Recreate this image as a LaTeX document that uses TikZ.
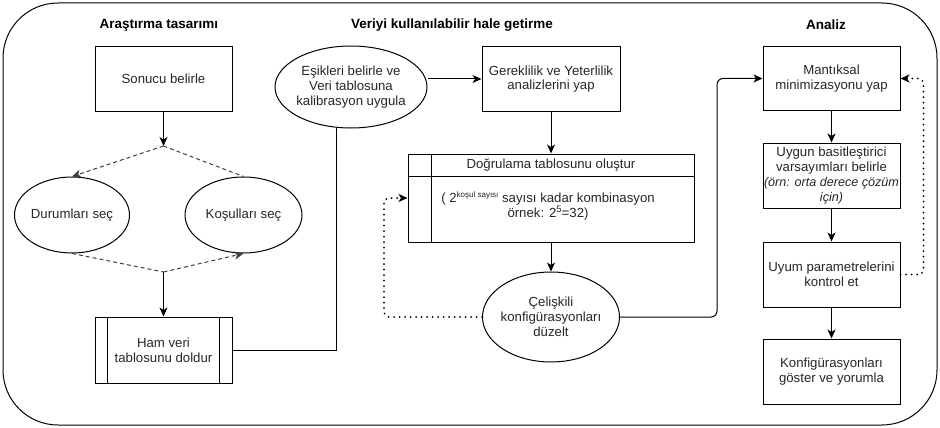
\documentclass[tikz,border=0pt]{standalone}
\usepackage{fontspec}
\setmainfont{Liberation Sans}
\usetikzlibrary{arrows.meta,shapes.geometric,calc}
\begin{document}
\begin{tikzpicture}[x=1pt,y=-1pt,
  every node/.style={font=\fontsize{13.2}{14.8}\selectfont, text=black!85},
  ttl/.style={font=\bfseries\fontsize{13.5}{15}\selectfont, text=black},
  box/.style={draw, line width=1pt, minimum width=137pt, minimum height=64pt, inner sep=0pt, align=center},
  ell/.style={draw, ellipse, line width=1pt, inner ysep=0pt, inner xsep=-4pt, align=center},
  tip/.style={-{Stealth[length=9pt,width=8pt,inset=2.5pt]}},
  arr/.style={line width=1pt, tip},
  dsh/.style={line width=1pt, black!75, dash pattern=on 4pt off 3pt},
  dot/.style={line width=2pt, dash pattern=on 0pt off 5.5pt, line cap=round, rounded corners=5pt},
  ln/.style={line width=1pt}
]
\useasboundingbox (0,0) rectangle (940,428);
\draw[line width=1pt, rounded corners=55pt] (3,3) rectangle (937,425);

% titles
\node[ttl] (t1) at (159,25) {Araştırma tasarımı};
\node[ttl] (t2) at (452,25) {Veriyi kullanılabilir hale getirme};
\node[ttl] (t3) at (826,25) {Analiz};

% left column
\node[box] (sonuc) at (163.5,79) {Sonucu belirle};
\coordinate (split) at (163.5,146);
\node[ell, minimum width=115pt, minimum height=76pt] (durum) at (72,215) {Durumları seç};
\node[ell, minimum width=117pt, minimum height=76pt] (kosul) at (243.5,215) {Koşulları seç};
\coordinate (join) at (163.5,272);
\node[box, minimum height=66pt] (ham) at (163.5,350) {Ham veri\\tablosunu doldur};
\draw[ln] ($(ham.north west)+(13,0)$) -- ($(ham.south west)+(13,0)$);
\draw[ln] ($(ham.north east)+(-13,0)$) -- ($(ham.south east)+(-13,0)$);

\draw[arr] (sonuc.south) -- (split);
\draw[dsh, tip] (split) -- (durum.north);
\draw[dsh] (split) -- (kosul.north);
\draw[dsh] (durum.south) -- (join);
\draw[dsh, tip] (join) -- (kosul.south);
\draw[arr] (join) -- (ham.north);

% middle column
\node[ell, minimum width=152pt, minimum height=82pt] (esik) at (351,87) {Eşikleri belirle ve\\Veri tablosuna\\kalibrasyon uygula};
\node[box, minimum width=138pt] (gerek) at (551,79) {Gereklilik ve Yeterlilik\\analizlerini yap};
\node[draw, line width=1pt, minimum width=286pt, minimum height=88pt, inner sep=0pt] (dogru) at (551,198) {};
\draw[ln] ($(dogru.north west)+(0,23)$) -- ($(dogru.north east)+(0,23)$);
\draw[ln] ($(dogru.north west)+(24,0)$) -- ($(dogru.south west)+(24,0)$);
\node (dogrut) at (551,165.5) {Doğrulama tablosunu oluştur};
\node[align=center] (dogrub) at (548,206) {( 2\raisebox{5pt}{\fontsize{8}{8}\selectfont koşul sayısı} sayısı kadar kombinasyon\\örnek: 2\raisebox{5pt}{\fontsize{9.5}{9.5}\selectfont 5}=32)};
\node[ell, minimum width=137pt, minimum height=90pt] (celis) at (551,317) {Çelişkili\\konfigürasyonları\\düzelt};

\draw[ln] (ham.east) -| (esik.-110.6);
\draw[arr] (esik.east |- gerek.west) -- (gerek.west);
\draw[arr] (gerek.south) -- (dogru.north);
\draw[arr] (dogru.south) -- (celis.north);
\draw[dot, tip] (celis.west) -- ++(-98,0) |- (dogru.west);

% right column
\node[box, minimum height=63pt] (mant) at (831.5,78.5) {Mantıksal\\minimizasyonu yap};
\node[box, minimum height=65pt] (uygun) at (831.5,175.5) {Uygun basitleştirici\\varsayımları belirle\\{\itshape\fontsize{12.6}{14.8}\selectfont (örn: orta derece çözüm}\\{\itshape\fontsize{12.6}{14.8}\selectfont için)}};
\node[box, minimum height=65pt] (uyum) at (831.5,274.5) {Uyum parametrelerini\\kontrol et};
\node[box, minimum height=65pt] (konf) at (831.5,371.5) {Konfigürasyonları\\göster ve yorumla};

\draw[ln, rounded corners=6pt, tip] (celis.east) -- ++(97,0) |- (mant.west);
\draw[arr] (mant.south) -- (uygun.north);
\draw[arr] (uygun.south) -- (uyum.north);
\draw[arr] (uyum.south) -- (konf.north);
\draw[dot, tip] (uyum.east) -- ++(23,0) |- (mant.east);
\end{tikzpicture}
\end{document}
